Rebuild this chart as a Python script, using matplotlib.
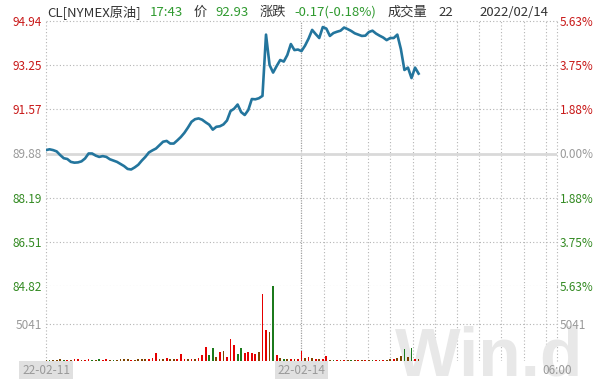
import numpy as np
import matplotlib.pyplot as plt

plt.rcParams['font.family'] = ['Noto Sans CJK SC', 'DejaVu Sans']

# --- data ---
prev_close = 89.88
price_ticks = [94.94, 93.25, 91.57, 89.88, 88.19, 86.51, 84.82]
pct_labels = ['5.63%', '3.75%', '1.88%', '0.00%', '1.88%', '3.75%', '5.63%']
vol_tick = 5041
vol_max = 10300
session_min = 1380          # 07:00 -> 06:00 next day
slots_per_day = 72
x_labels = ['22-02-11', '22-02-14', '06:00']

price = [90.01, 90.04, 90.01, 89.96, 89.82, 89.70, 89.67, 89.56, 89.53, 89.54,
         89.58, 89.69, 89.88, 89.88, 89.80, 89.75, 89.78, 89.75, 89.66, 89.61,
         89.56, 89.48, 89.40, 89.29, 89.27, 89.35, 89.45, 89.61, 89.75, 89.92,
         90.00, 90.07, 90.20, 90.33, 90.36, 90.26, 90.26, 90.38, 90.51, 90.67,
         90.87, 91.09, 91.19, 91.22, 91.17, 91.07, 90.98, 90.79, 90.90, 90.92,
         90.99, 91.14, 91.50, 91.59, 91.75, 91.46, 91.35, 91.54, 91.96, 91.95,
         91.99, 92.08, 94.42, 93.26, 92.97, 93.22, 93.45, 93.39, 93.64, 94.06,
         93.83, 93.85, 93.79, 94.00, 94.27, 94.60, 94.44, 94.29, 94.71, 94.65,
         94.37, 94.48, 94.53, 94.57, 94.69, 94.63, 94.56, 94.47, 94.42, 94.37,
         94.38, 94.52, 94.57, 94.46, 94.38, 94.31, 94.21, 94.29, 94.29, 94.42,
         93.87, 93.07, 93.16, 92.76, 93.16, 92.93]

volume = [140, 140, 140, 200, 280, 140, 140, 200, 280, 280,
          140, 200, 280, 140, 140, 280, 200, 280, 140, 140,
          200, 280, 280, 280, 200, 140, 280, 280, 280, 280,
          420, 1110, 280, 280, 420, 280, 280, 280, 970, 280,
          280, 280, 280, 420, 830, 1950, 830, 1800, 560, 1250,
          1390, 560, 3060, 2220, 970, 1800, 1110, 1250, 1110, 970,
          1250, 9170, 4300, 4000, 10300, 830, 420, 280, 280, 280,
          280, 280, 1390, 420, 560, 420, 280, 280, 280, 700,
          200, 140, 200, 140, 200, 140, 200, 140, 200, 140,
          200, 140, 200, 140, 200, 140, 200, 280, 280, 420,
          700, 1670, 560, 1770, 280, 280]

vol_side = list('bgbbbgrbrr'
                'brrgbgrrbg'
                'bbbbrbbbbr'
                'rrbbrbbrrr'
                'brbrrrggbr'
                'brrrggrrrr'
                'brrbgrbgbr'
                'brrbrbrbrr'
                'bgrbrbgbrb'
                'rbgrbrbbrb'
                'bgbgrb')

header = [(47, 'CL[NYMEX原油]', 'dark'), (150, '17:43', 'up'), (194, '价', 'dark'),
          (215, '92.93', 'up'), (260, '涨跌', 'dark'), (294, '-0.17(-0.18%)', 'up'),
          (388, '成交量', 'dark'), (438, '22', 'dark'), (479, '2022/02/14', 'dark')]

# --- styles ---
W, H = 602, 382
line_c = '#23759d'
red_c = '#c81818'
green_c = '#338a22'
grey_c = '#999999'
grid_c = '#b4b4b4'
bar_colors = {'r': '#e50000', 'g': '#1c7a1c', 'b': '#7e4400'}
head_colors = {'dark': '#333333', 'up': '#2f9a2f'}

step = session_min / slots_per_day
t = np.arange(len(price)) * step
t_end = 2 * session_min

fig = plt.figure(figsize=(W / 100, H / 100), dpi=100)
left, right = 46 / W, 557 / W
ax = fig.add_axes([left, 1 - 286 / H, right - left, (286 - 21) / H])
axv = fig.add_axes([left, 1 - 361 / H, right - left, (361 - 286) / H])

for a in (ax, axv):
    a.set_xlim(0, t_end)
    for s in a.spines.values():
        s.set_visible(False)
    a.set_xticks([])
    # vertical grid: day-2 every 2 hours from 07:00, plus edges
    for xv in np.arange(session_min + 120, t_end, 120):
        a.axvline(xv, color=grid_c, lw=0.8, ls=(0, (1, 2)), zorder=1)
    a.axvline(0, color=grid_c, lw=0.8, ls=(0, (1, 2)), zorder=1, clip_on=False)
    a.axvline(t_end, color=grid_c, lw=0.8, ls=(0, (1, 2)), zorder=1, clip_on=False)
    a.axvline(session_min, color='#a0a0a0', lw=0.9, ls=(0, (1, 1)), zorder=1, clip_on=False)

# price panel
ax.set_ylim(price_ticks[-1], price_ticks[0])
for v in price_ticks:
    if v == prev_close:
        ax.axhline(v, color='#d9d9d9', lw=2.0, zorder=1)
    else:
        ax.axhline(v, color=grid_c, lw=0.8, ls=(0, (1, 2)), zorder=1, clip_on=False)
ax.plot(t, price, color=line_c, lw=1.9, zorder=3)

tick_cols = [red_c if v > prev_close else (grey_c if v == prev_close else green_c)
             for v in price_ticks]
ax.set_yticks(price_ticks, [f'{v:.2f}' for v in price_ticks])
ax.tick_params(axis='y', length=0, pad=3, labelsize=8.5)
for lab, c in zip(ax.get_yticklabels(), tick_cols):
    lab.set_color(c)

ax2 = ax.twinx()
ax2.set_ylim(ax.get_ylim())
for s in ax2.spines.values():
    s.set_visible(False)
ax2.set_yticks(price_ticks, pct_labels)
ax2.tick_params(axis='y', length=0, pad=2, labelsize=8.5)
for lab, c in zip(ax2.get_yticklabels(), tick_cols):
    lab.set_color(c)

# volume panel
axv.set_ylim(0, vol_max)
axv.axhline(vol_tick, color=grid_c, lw=0.8, ls=(0, (1, 2)), zorder=1)
axv.bar(t, volume, width=step * 0.5, color=[bar_colors[s] for s in vol_side],
        zorder=3, linewidth=0)
axv.set_yticks([vol_tick], [str(vol_tick)])
axv.tick_params(axis='y', length=0, pad=3, labelsize=8.5, labelcolor=grey_c)
axv2 = axv.twinx()
axv2.set_ylim(0, vol_max)
for s in axv2.spines.values():
    s.set_visible(False)
axv2.set_yticks([vol_tick], [str(vol_tick)])
axv2.tick_params(axis='y', length=0, pad=2, labelsize=8.5, labelcolor=grey_c)

# watermark
axv.text(395 / W, 1 - 376 / H, 'Win.d', transform=fig.transFigure, family='Liberation Sans',
         fontweight='bold', fontsize=50, color='#e8e8e8', ha='left', va='baseline',
         zorder=2, clip_on=False)

# x labels
lab_y = 1 - 370 / H
for xv, s in zip([0, session_min, t_end], x_labels):
    xf = left + (right - left) * xv / t_end
    kw = {}
    if s != x_labels[-1]:
        kw['bbox'] = dict(boxstyle='square,pad=0.25', fc='#e0e0e0', ec='none')
    fig.text(xf, lab_y, s, ha='center', va='center', fontsize=8.5, color=grey_c, **kw)

# header
for xp, s, c in header:
    fig.text(xp / W, 1 - 12 / H, s, ha='left', va='center', fontsize=9.5,
             color=head_colors[c])

fig.savefig('out.png', dpi=100)
